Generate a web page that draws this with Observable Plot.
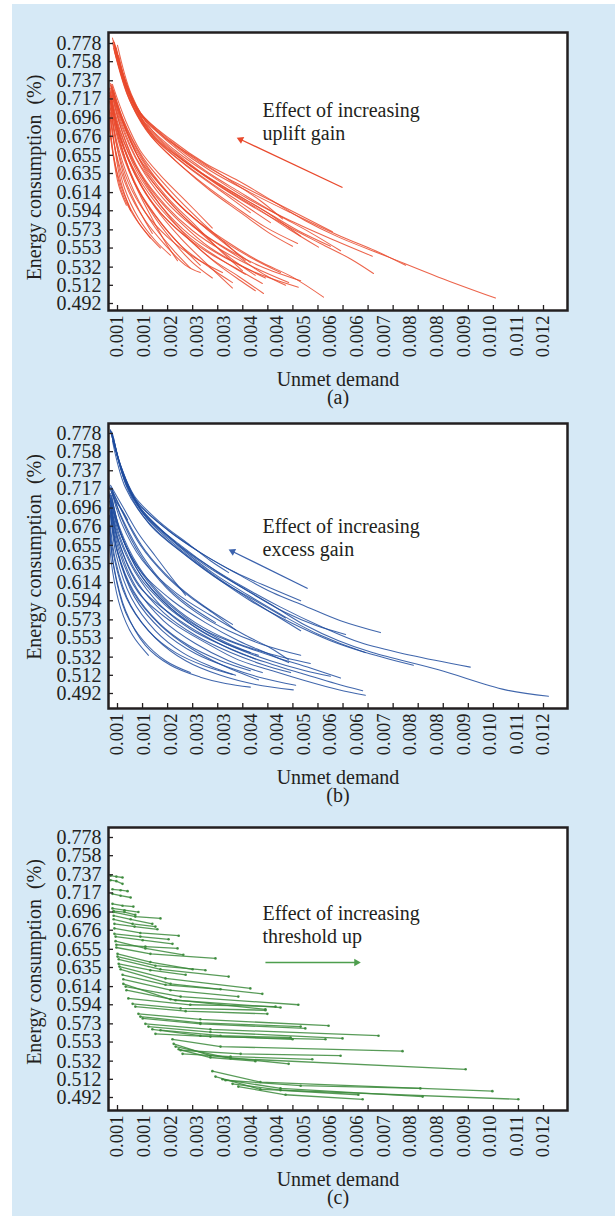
<!DOCTYPE html>
<html><head><meta charset="utf-8">
<script src="https://cdn.jsdelivr.net/npm/d3@7"></script>
<script src="https://cdn.jsdelivr.net/npm/@observablehq/plot@0.6"></script>
<style>
html,body{margin:0;padding:0;background:#ffffff;}
#page{position:relative;width:615px;height:1216px;overflow:hidden;font-family:"Liberation Serif","Times New Roman",serif;}
#bg{position:absolute;left:12px;top:4px;width:603px;height:1212px;background:#d6e9f6;}
#page svg{position:absolute;left:0;}
</style></head><body>
<div id="page"><div id="bg"></div></div>
<script>
// ---------- tick labels ----------
const yTickLabels = ["0.778","0.758","0.737","0.717","0.696","0.676","0.655","0.635","0.614","0.594","0.573","0.553","0.532","0.512","0.492"];
const xTickLabels = ["0.001","0.001","0.002","0.003","0.003","0.004","0.004","0.005","0.006","0.006","0.007","0.008","0.008","0.009","0.010","0.011","0.012"];
const xTickCount = 18;

// ---------- (a) uplift gain: curves of [unmet demand, energy consumption] ----------
const upliftUpper = [
 [[0.00087,0.784],[0.00113,0.746],[0.00154,0.704],[0.00242,0.671],[0.00327,0.646],[0.00412,0.627],[0.00500,0.605],[0.00585,0.583],[0.00671,0.565],[0.00800,0.543],[0.00929,0.521],[0.01076,0.498]],
 [[0.00090,0.781],[0.00121,0.737],[0.00159,0.702],[0.00237,0.671],[0.00314,0.647],[0.00418,0.622],[0.00521,0.600],[0.00655,0.571]],
 [[0.00092,0.779],[0.00123,0.733],[0.00165,0.698],[0.00250,0.665],[0.00340,0.638],[0.00443,0.614],[0.00547,0.592],[0.00676,0.566],[0.00766,0.550],[0.00844,0.534]],
 [[0.00095,0.775],[0.00128,0.724],[0.00180,0.685],[0.00263,0.652],[0.00353,0.624],[0.00443,0.600],[0.00534,0.578],[0.00624,0.558],[0.00702,0.541],[0.00761,0.525]],
 [[0.00090,0.773],[0.00126,0.721],[0.00175,0.682],[0.00250,0.649],[0.00327,0.622],[0.00405,0.598],[0.00482,0.576],[0.00565,0.558]],
 [[0.00097,0.770],[0.00134,0.715],[0.00185,0.677],[0.00263,0.644],[0.00340,0.616],[0.00418,0.592],[0.00490,0.570],[0.00552,0.555]],
 [[0.00092,0.770],[0.00131,0.718],[0.00185,0.679],[0.00263,0.649],[0.00340,0.625],[0.00418,0.603],[0.00495,0.581]],
 [[0.00100,0.776],[0.00136,0.722],[0.00190,0.682],[0.00276,0.649],[0.00366,0.621],[0.00456,0.598],[0.00542,0.574],[0.00619,0.554]],
 [[0.00095,0.768],[0.00134,0.713],[0.00190,0.676],[0.00276,0.644],[0.00366,0.616],[0.00443,0.592]],
 [[0.00103,0.765],[0.00141,0.711],[0.00198,0.674],[0.00288,0.644],[0.00392,0.616],[0.00490,0.591],[0.00573,0.566]],
 [[0.00087,0.779],[0.00118,0.735],[0.00162,0.698],[0.00242,0.666],[0.00327,0.638],[0.00418,0.614],[0.00508,0.591],[0.00598,0.570],[0.00676,0.550]],
 [[0.00090,0.777],[0.00121,0.733],[0.00159,0.700],[0.00224,0.674],[0.00301,0.652],[0.00392,0.627],[0.00469,0.605],[0.00526,0.585]],
 [[0.00092,0.777],[0.00123,0.731],[0.00167,0.693],[0.00250,0.660],[0.00340,0.633],[0.00438,0.607],[0.00547,0.583],[0.00663,0.561],[0.00758,0.544]],
 [[0.00097,0.773],[0.00131,0.722],[0.00183,0.682],[0.00270,0.649],[0.00366,0.622],[0.00464,0.598],[0.00567,0.572],[0.00650,0.555]]
];
const upliftLower = [
 [[0.00082,0.734],[0.00103,0.704],[0.00154,0.653],[0.00224,0.616],[0.00294,0.587],[0.00379,0.561],[0.00464,0.539],[0.00552,0.521],[0.00632,0.499]],
 [[0.00082,0.729],[0.00103,0.693],[0.00146,0.644],[0.00211,0.600],[0.00276,0.567],[0.00340,0.542],[0.00412,0.522],[0.00477,0.503]],
 [[0.00082,0.726],[0.00100,0.688],[0.00139,0.641],[0.00198,0.597],[0.00263,0.564],[0.00327,0.537],[0.00397,0.509]],
 [[0.00079,0.721],[0.00097,0.682],[0.00134,0.636],[0.00185,0.594],[0.00242,0.561],[0.00294,0.537],[0.00345,0.520]],
 [[0.00082,0.732],[0.00108,0.696],[0.00159,0.649],[0.00224,0.611],[0.00301,0.578],[0.00366,0.550],[0.00423,0.528]],
 [[0.00085,0.733],[0.00113,0.696],[0.00165,0.653],[0.00237,0.616],[0.00314,0.583],[0.00379,0.558],[0.00430,0.539]],
 [[0.00087,0.733],[0.00121,0.693],[0.00159,0.660],[0.00211,0.633],[0.00276,0.605],[0.00345,0.575]],
 [[0.00079,0.715],[0.00095,0.671],[0.00121,0.627],[0.00159,0.592],[0.00190,0.569]],
 [[0.00077,0.710],[0.00090,0.671],[0.00108,0.627],[0.00134,0.594]],
 [[0.00082,0.721],[0.00103,0.677],[0.00139,0.629],[0.00185,0.589],[0.00224,0.559],[0.00255,0.539]],
 [[0.00082,0.724],[0.00105,0.685],[0.00149,0.638],[0.00211,0.600],[0.00288,0.567],[0.00379,0.542],[0.00474,0.523],[0.00567,0.510]],
 [[0.00079,0.704],[0.00095,0.660],[0.00128,0.616],[0.00172,0.583],[0.00224,0.556],[0.00276,0.534],[0.00314,0.526]],
 [[0.00085,0.729],[0.00110,0.691],[0.00159,0.644],[0.00232,0.605],[0.00314,0.570],[0.00392,0.542],[0.00456,0.523]],
 [[0.00082,0.715],[0.00100,0.674],[0.00141,0.627],[0.00198,0.589],[0.00263,0.556],[0.00340,0.531],[0.00397,0.515]],
 [[0.00077,0.693],[0.00092,0.649],[0.00118,0.611],[0.00154,0.581],[0.00185,0.564]],
 [[0.00087,0.726],[0.00118,0.688],[0.00172,0.638],[0.00242,0.600],[0.00327,0.567],[0.00405,0.545],[0.00482,0.523],[0.00534,0.512]],
 [[0.00082,0.719],[0.00103,0.680],[0.00146,0.633],[0.00211,0.592],[0.00288,0.561],[0.00353,0.537],[0.00418,0.517],[0.00456,0.506]],
 [[0.00079,0.729],[0.00097,0.693],[0.00139,0.649],[0.00198,0.611],[0.00263,0.581],[0.00340,0.553],[0.00418,0.534],[0.00482,0.520]],
 [[0.00085,0.710],[0.00108,0.666],[0.00154,0.616],[0.00211,0.581],[0.00276,0.550],[0.00314,0.534]],
 [[0.00090,0.726],[0.00123,0.685],[0.00180,0.641],[0.00250,0.605],[0.00327,0.575],[0.00392,0.553],[0.00443,0.537]],
 [[0.00077,0.699],[0.00087,0.660],[0.00103,0.622],[0.00123,0.600]],
 [[0.00082,0.707],[0.00103,0.662],[0.00144,0.614],[0.00198,0.575],[0.00250,0.548],[0.00288,0.531]],
 [[0.00079,0.724],[0.00100,0.685],[0.00134,0.644],[0.00185,0.605],[0.00250,0.575],[0.00327,0.550],[0.00405,0.531],[0.00474,0.514]],
 [[0.00082,0.713],[0.00097,0.669],[0.00128,0.625],[0.00172,0.592],[0.00232,0.564],[0.00301,0.542],[0.00371,0.526]],
 [[0.00085,0.731],[0.00108,0.699],[0.00149,0.660],[0.00206,0.625],[0.00276,0.594],[0.00353,0.567],[0.00438,0.544],[0.00521,0.526]],
 [[0.00082,0.702],[0.00095,0.660],[0.00118,0.619],[0.00154,0.586],[0.00198,0.561],[0.00237,0.545]],
 [[0.00087,0.721],[0.00113,0.680],[0.00159,0.636],[0.00224,0.600],[0.00294,0.572],[0.00371,0.550],[0.00456,0.531],[0.00542,0.515]],
 [[0.00079,0.696],[0.00090,0.655],[0.00110,0.616],[0.00141,0.589],[0.00180,0.567],[0.00211,0.553]],
 [[0.00082,0.718],[0.00105,0.676],[0.00152,0.632],[0.00216,0.594],[0.00288,0.564],[0.00361,0.542],[0.00430,0.524]],
 [[0.00085,0.726],[0.00110,0.688],[0.00157,0.644],[0.00219,0.607],[0.00294,0.577],[0.00379,0.553],[0.00469,0.533],[0.00573,0.517]]
];

// ---------- (b) excess gain ----------
const excessUpper = [
 [[0.00082,0.782],[0.00113,0.735],[0.00154,0.699],[0.00242,0.661],[0.00327,0.633],[0.00412,0.611],[0.00500,0.589],[0.00585,0.567],[0.00671,0.550],[0.00758,0.537],[0.00929,0.518],[0.01102,0.496],[0.01213,0.489]],
 [[0.00085,0.780],[0.00115,0.733],[0.00159,0.696],[0.00250,0.658],[0.00340,0.631],[0.00430,0.608],[0.00521,0.587],[0.00624,0.566],[0.00727,0.548],[0.00857,0.534],[0.01011,0.521]],
 [[0.00087,0.778],[0.00118,0.729],[0.00165,0.691],[0.00258,0.654],[0.00345,0.625],[0.00438,0.600],[0.00534,0.576],[0.00624,0.556],[0.00727,0.539],[0.00864,0.523]],
 [[0.00082,0.781],[0.00110,0.740],[0.00149,0.704],[0.00224,0.674],[0.00314,0.647],[0.00412,0.623],[0.00500,0.603],[0.00585,0.588],[0.00676,0.572],[0.00779,0.559]],
 [[0.00087,0.775],[0.00121,0.724],[0.00172,0.688],[0.00263,0.655],[0.00353,0.627],[0.00443,0.603],[0.00534,0.581],[0.00611,0.567],[0.00689,0.557]],
 [[0.00085,0.779],[0.00113,0.737],[0.00152,0.702],[0.00232,0.671],[0.00314,0.647],[0.00405,0.625],[0.00495,0.608],[0.00573,0.594]],
 [[0.00082,0.781],[0.00108,0.743],[0.00144,0.709],[0.00211,0.680],[0.00288,0.655],[0.00340,0.638],[0.00387,0.625]],
 [[0.00090,0.773],[0.00123,0.721],[0.00175,0.685],[0.00258,0.652],[0.00340,0.625],[0.00423,0.601],[0.00508,0.578],[0.00573,0.561]],
 [[0.00087,0.770],[0.00121,0.718],[0.00180,0.680],[0.00268,0.647],[0.00353,0.620],[0.00443,0.594],[0.00547,0.570],[0.00650,0.550],[0.00740,0.537]],
 [[0.00092,0.768],[0.00128,0.715],[0.00185,0.677],[0.00276,0.644],[0.00366,0.616],[0.00456,0.594],[0.00534,0.575]]
];
const excessLower = [
 [[0.00082,0.699],[0.00103,0.650],[0.00154,0.603],[0.00242,0.570],[0.00327,0.548],[0.00412,0.529],[0.00500,0.517],[0.00585,0.506],[0.00671,0.496],[0.00740,0.490]],
 [[0.00082,0.704],[0.00103,0.660],[0.00154,0.611],[0.00242,0.578],[0.00327,0.555],[0.00412,0.537],[0.00500,0.524],[0.00585,0.513],[0.00663,0.503],[0.00733,0.495]],
 [[0.00079,0.688],[0.00095,0.638],[0.00134,0.589],[0.00198,0.553],[0.00276,0.528],[0.00366,0.512],[0.00456,0.502],[0.00554,0.496]],
 [[0.00082,0.693],[0.00100,0.647],[0.00144,0.598],[0.00216,0.561],[0.00301,0.536],[0.00392,0.520],[0.00474,0.509],[0.00560,0.501]],
 [[0.00082,0.710],[0.00105,0.671],[0.00159,0.627],[0.00242,0.594],[0.00327,0.570],[0.00412,0.550],[0.00482,0.537],[0.00542,0.526]],
 [[0.00085,0.715],[0.00110,0.680],[0.00165,0.638],[0.00250,0.603],[0.00340,0.578],[0.00430,0.556],[0.00495,0.542],[0.00542,0.529]],
 [[0.00077,0.682],[0.00090,0.633],[0.00121,0.583],[0.00172,0.545],[0.00237,0.523],[0.00314,0.510],[0.00379,0.503],[0.00443,0.499]],
 [[0.00082,0.719],[0.00113,0.691],[0.00159,0.655],[0.00224,0.622],[0.00288,0.598],[0.00345,0.581],[0.00405,0.562]],
 [[0.00087,0.715],[0.00118,0.688],[0.00172,0.649],[0.00242,0.616],[0.00314,0.591],[0.00397,0.568]],
 [[0.00082,0.721],[0.00113,0.698],[0.00154,0.668],[0.00198,0.643],[0.00237,0.621],[0.00276,0.600]],
 [[0.00085,0.713],[0.00115,0.682],[0.00165,0.643],[0.00224,0.611],[0.00288,0.588],[0.00353,0.570]],
 [[0.00077,0.721],[0.00095,0.704],[0.00113,0.693],[0.00126,0.683]],
 [[0.00082,0.707],[0.00105,0.666],[0.00154,0.622],[0.00224,0.589],[0.00301,0.565],[0.00379,0.547],[0.00464,0.534]],
 [[0.00079,0.696],[0.00097,0.652],[0.00141,0.603],[0.00211,0.567],[0.00288,0.542],[0.00371,0.523],[0.00464,0.507]],
 [[0.00079,0.704],[0.00100,0.663],[0.00149,0.616],[0.00219,0.581],[0.00301,0.556],[0.00392,0.537],[0.00474,0.524],[0.00547,0.515]],
 [[0.00082,0.691],[0.00097,0.644],[0.00136,0.597],[0.00198,0.561],[0.00268,0.537],[0.00340,0.522],[0.00405,0.512]],
 [[0.00077,0.715],[0.00100,0.677],[0.00149,0.633],[0.00216,0.597],[0.00294,0.570],[0.00371,0.550],[0.00443,0.537]],
 [[0.00079,0.677],[0.00092,0.627],[0.00121,0.581],[0.00167,0.550],[0.00224,0.528],[0.00288,0.515]],
 [[0.00085,0.710],[0.00108,0.669],[0.00159,0.623],[0.00232,0.588],[0.00314,0.561],[0.00405,0.542],[0.00495,0.528],[0.00585,0.517],[0.00650,0.511]],
 [[0.00082,0.701],[0.00103,0.655],[0.00149,0.608],[0.00219,0.572],[0.00301,0.547],[0.00387,0.528],[0.00474,0.515]],
 [[0.00087,0.704],[0.00110,0.666],[0.00162,0.621],[0.00237,0.586],[0.00327,0.561],[0.00418,0.545],[0.00508,0.532],[0.00598,0.520],[0.00676,0.509]],
 [[0.00077,0.671],[0.00087,0.627],[0.00108,0.586],[0.00139,0.556],[0.00180,0.534]],
 [[0.00079,0.710],[0.00100,0.669],[0.00146,0.625],[0.00211,0.589],[0.00288,0.563],[0.00371,0.545],[0.00456,0.530]],
 [[0.00082,0.697],[0.00100,0.649],[0.00141,0.605],[0.00206,0.570],[0.00283,0.545],[0.00366,0.528],[0.00443,0.517]],
 [[0.00085,0.718],[0.00110,0.685],[0.00159,0.644],[0.00227,0.608],[0.00304,0.581],[0.00387,0.561],[0.00474,0.546],[0.00573,0.534]],
 [[0.00077,0.691],[0.00090,0.644],[0.00123,0.597],[0.00180,0.561],[0.00250,0.537],[0.00327,0.522],[0.00397,0.513]],
 [[0.00082,0.712],[0.00105,0.675],[0.00154,0.632],[0.00221,0.597],[0.00301,0.570],[0.00392,0.550],[0.00490,0.536],[0.00598,0.525]]
];

// ---------- (c) threshold up ----------
const thresholdSegments = [
 [[0.00082,0.736],[0.00097,0.735],[0.00113,0.734]],
 [[0.00082,0.731],[0.00097,0.730],[0.00113,0.727]],
 [[0.00087,0.721],[0.00108,0.720],[0.00126,0.719]],
 [[0.00087,0.716],[0.00108,0.714],[0.00134,0.712]],
 [[0.00087,0.705],[0.00113,0.703],[0.00141,0.702]],
 [[0.00087,0.700],[0.00118,0.698],[0.00154,0.696]],
 [[0.00090,0.697],[0.00118,0.696],[0.00146,0.693]],
 [[0.00090,0.692],[0.00134,0.688],[0.00190,0.683]],
 [[0.00090,0.688],[0.00139,0.683],[0.00198,0.680]],
 [[0.00092,0.683],[0.00144,0.680],[0.00203,0.677]],
 [[0.00092,0.672],[0.00159,0.669],[0.00232,0.666]],
 [[0.00095,0.669],[0.00165,0.665],[0.00242,0.661]],
 [[0.00095,0.664],[0.00172,0.656],[0.00270,0.649]],
 [[0.00097,0.660],[0.00172,0.658],[0.00255,0.656]],
 [[0.00100,0.650],[0.00185,0.641],[0.00294,0.633]],
 [[0.00100,0.647],[0.00198,0.637],[0.00327,0.632]],
 [[0.00103,0.644],[0.00211,0.633],[0.00387,0.625]],
 [[0.00103,0.639],[0.00185,0.632],[0.00276,0.627]],
 [[0.00108,0.633],[0.00237,0.617],[0.00474,0.606]],
 [[0.00113,0.627],[0.00224,0.616],[0.00366,0.611]],
 [[0.00115,0.622],[0.00237,0.610],[0.00412,0.603]],
 [[0.00121,0.614],[0.00263,0.603],[0.00567,0.594]],
 [[0.00115,0.617],[0.00237,0.600],[0.00482,0.589]],
 [[0.00139,0.595],[0.00263,0.590],[0.00482,0.588]],
 [[0.00146,0.592],[0.00276,0.587],[0.00487,0.584]],
 [[0.00154,0.584],[0.00314,0.578],[0.00645,0.571]],
 [[0.00165,0.579],[0.00314,0.573],[0.00585,0.568]],
 [[0.00172,0.573],[0.00340,0.567],[0.00774,0.560]],
 [[0.00180,0.570],[0.00340,0.564],[0.00681,0.557]],
 [[0.00190,0.567],[0.00314,0.560],[0.00552,0.556]],
 [[0.00198,0.562],[0.00340,0.559],[0.00637,0.556]],
 [[0.00242,0.556],[0.00366,0.548],[0.00836,0.543]],
 [[0.00245,0.551],[0.00340,0.538],[0.00542,0.529]],
 [[0.00250,0.548],[0.00392,0.535],[0.00999,0.523]],
 [[0.00258,0.545],[0.00340,0.536],[0.00456,0.532]],
 [[0.00268,0.540],[0.00392,0.537],[0.00603,0.534]],
 [[0.00345,0.521],[0.00469,0.509],[0.01068,0.499]],
 [[0.00353,0.515],[0.00469,0.501],[0.01135,0.490]],
 [[0.00397,0.507],[0.00521,0.500],[0.00722,0.495]],
 [[0.00412,0.504],[0.00534,0.495],[0.00733,0.490]],
 [[0.00371,0.512],[0.00521,0.502],[0.00888,0.493]],
 [[0.00105,0.636],[0.00224,0.623],[0.00443,0.612]],
 [[0.00123,0.610],[0.00250,0.599],[0.00521,0.591]],
 [[0.00159,0.581],[0.00314,0.574],[0.00573,0.570]],
 [[0.00211,0.566],[0.00366,0.560],[0.00547,0.558]],
 [[0.00097,0.657],[0.00185,0.650],[0.00353,0.645]],
 [[0.00092,0.678],[0.00159,0.673],[0.00258,0.670]],
 [[0.00263,0.544],[0.00418,0.540],[0.00676,0.538]],
 [[0.00379,0.511],[0.00573,0.505],[0.00882,0.502]],
 [[0.00090,0.696],[0.00146,0.691],[0.00211,0.689]],
 [[0.00128,0.601],[0.00288,0.594],[0.00508,0.592]]
];

// ---------- annotation arrows: [tail x, tail y, head x, head y] ----------
const arrowUplift = [0.00681, 0.6196, 0.00418, 0.6724];
const arrowExcess = [0.00591, 0.6075, 0.00397, 0.6482];
const arrowThreshold = [0.00482, 0.6405, 0.00717, 0.6405];

// ---------- layout ----------
const FONT = '"Liberation Serif","Times New Roman",serif';
const INK = "#231f20";
const W = 615, ML = 108, MR = 48;
const kx = 0.011 / 426;
const xDomain = [0.001 - 9 * kx, 0.001 + 450 * kx];
const yTickValues = yTickLabels.map(Number);
const xLabelValues = xTickLabels.map((_, i) => 0.001 + i * 0.011 / (xTickLabels.length - 1));
const xTickValues = d3.range(xTickCount).map(i => 0.001 + i * 0.011 / (xTickCount - 1));

function toRows(curves, tag) {
  return curves.flatMap((c, i) => c.map(([x, y]) => ({id: tag + i, x, y})));
}

const panels = [
  {top: 0, height: 400, mt: 32, mb: 90, yDomain: [0.4843, 0.7901], color: "#e9492c", arrowColor: "#e9492c",
   rows: toRows(upliftUpper, "u").concat(toRows(upliftLower, "l")), curve: "catmull-rom", dots: false,
   note: "Effect of increasing\nuplift gain", noteDy: 68, arrow: arrowUplift, titleDy: 6, tag: "(a)"},
  {top: 400, height: 400, mt: 23, mb: 92, yDomain: [0.4755, 0.789], color: "#1f4b9e", arrowColor: "#3b62ad",
   rows: toRows(excessUpper, "u").concat(toRows(excessLower, "l")), curve: "catmull-rom", dots: false,
   note: "Effect of increasing\nexcess gain", noteDy: 93, arrow: arrowExcess, titleDy: -9, tag: "(b)"},
  {top: 800, height: 416, mt: 27, mb: 106, yDomain: [0.4777, 0.789], color: "#3b8a3b", arrowColor: "#4e9e4e",
   rows: toRows(thresholdSegments, "s"), curve: "linear", dots: true,
   note: "Effect of increasing\nthreshold up", noteDy: 76, arrow: arrowThreshold, titleDy: -7, tag: "(c)"}
];

const page = document.getElementById("page");

for (const p of panels) {
  const frameTop = p.mt, frameBottom = p.height - p.mb;
  const sx = Plot.scale({x: {domain: xDomain, range: [ML, W - MR]}});
  const sy = Plot.scale({y: {domain: p.yDomain, range: [frameBottom, frameTop]}});
  const [ax1, ay1, ax2, ay2] = p.arrow;
  const ang = Math.atan2(sx.apply(ax2) - sx.apply(ax1), -(sy.apply(ay2) - sy.apply(ay1))) * 180 / Math.PI;

  const marks = [
    Plot.frame({fill: "white"}),
    Plot.line(p.rows, {x: "x", y: "y", z: "id", stroke: p.color, strokeWidth: p.dots ? 1.3 : 1.05, strokeOpacity: 0.85, curve: p.curve})
  ];
  if (p.dots) marks.push(Plot.dot(p.rows, {x: "x", y: "y", r: 1.3, fill: p.color, fillOpacity: 0.9}));
  marks.push(
    Plot.link([p.arrow], {x1: d => d[0], y1: d => d[1], x2: d => d[2], y2: d => d[3], stroke: p.arrowColor, strokeWidth: 1.3}),
    Plot.dot([p.arrow], {x: d => d[2], y: d => d[3], symbol: "triangle", r: 2.8, fill: p.arrowColor, stroke: "none", rotate: ang}),
    Plot.axisY(yTickValues, {anchor: "left", tickSize: -5, fill: "none", stroke: INK, strokeWidth: 1.3}),
    Plot.axisY(yTickValues, {anchor: "left", tickSize: 0, tickPadding: 7, fill: INK, fontSize: 20, label: null,
      tickFormat: d => yTickLabels[yTickValues.indexOf(d)]}),
    Plot.axisX(xTickValues, {anchor: "bottom", tickSize: -5, fill: "none", stroke: INK, strokeWidth: 1.3}),
    Plot.axisX(xLabelValues, {anchor: "bottom", tickSize: 0, tickPadding: 5, tickRotate: -90, fill: INK, fontSize: 18.5, label: null,
      tickFormat: d => xTickLabels[xLabelValues.indexOf(d)]}),
    Plot.frame({stroke: INK, strokeWidth: 2.5}),
    Plot.text(["Energy consumption\u00a0 (%)"], {text: d => d, frameAnchor: "left", textAnchor: "middle", lineAnchor: "middle", rotate: -90, dx: -74, dy: p.titleDy, fontSize: 20, fill: INK}),
    Plot.text(["Unmet demand"], {text: d => d, frameAnchor: "bottom", textAnchor: "middle", lineAnchor: "middle", dy: 68.6, fontSize: 20, fill: INK}),
    Plot.text([p.tag], {text: d => d, frameAnchor: "bottom", textAnchor: "middle", lineAnchor: "middle", dy: 87, fontSize: 20, fill: INK}),
    Plot.text([p.note], {text: d => d, frameAnchor: "top-left", dx: 154, dy: p.noteDy, textAnchor: "start", lineAnchor: "top", lineHeight: 1.15, fontSize: 20, fill: INK})
  );

  const svg = Plot.plot({
    width: W, height: p.height,
    marginLeft: ML, marginRight: MR, marginTop: p.mt, marginBottom: p.mb,
    x: {domain: xDomain},
    y: {domain: p.yDomain},
    style: {fontFamily: FONT, fontSize: "19px", color: INK, background: "transparent", overflow: "visible"},
    marks
  });
  svg.style.top = p.top + "px";
  page.appendChild(svg);
}
</script>
</body></html>
